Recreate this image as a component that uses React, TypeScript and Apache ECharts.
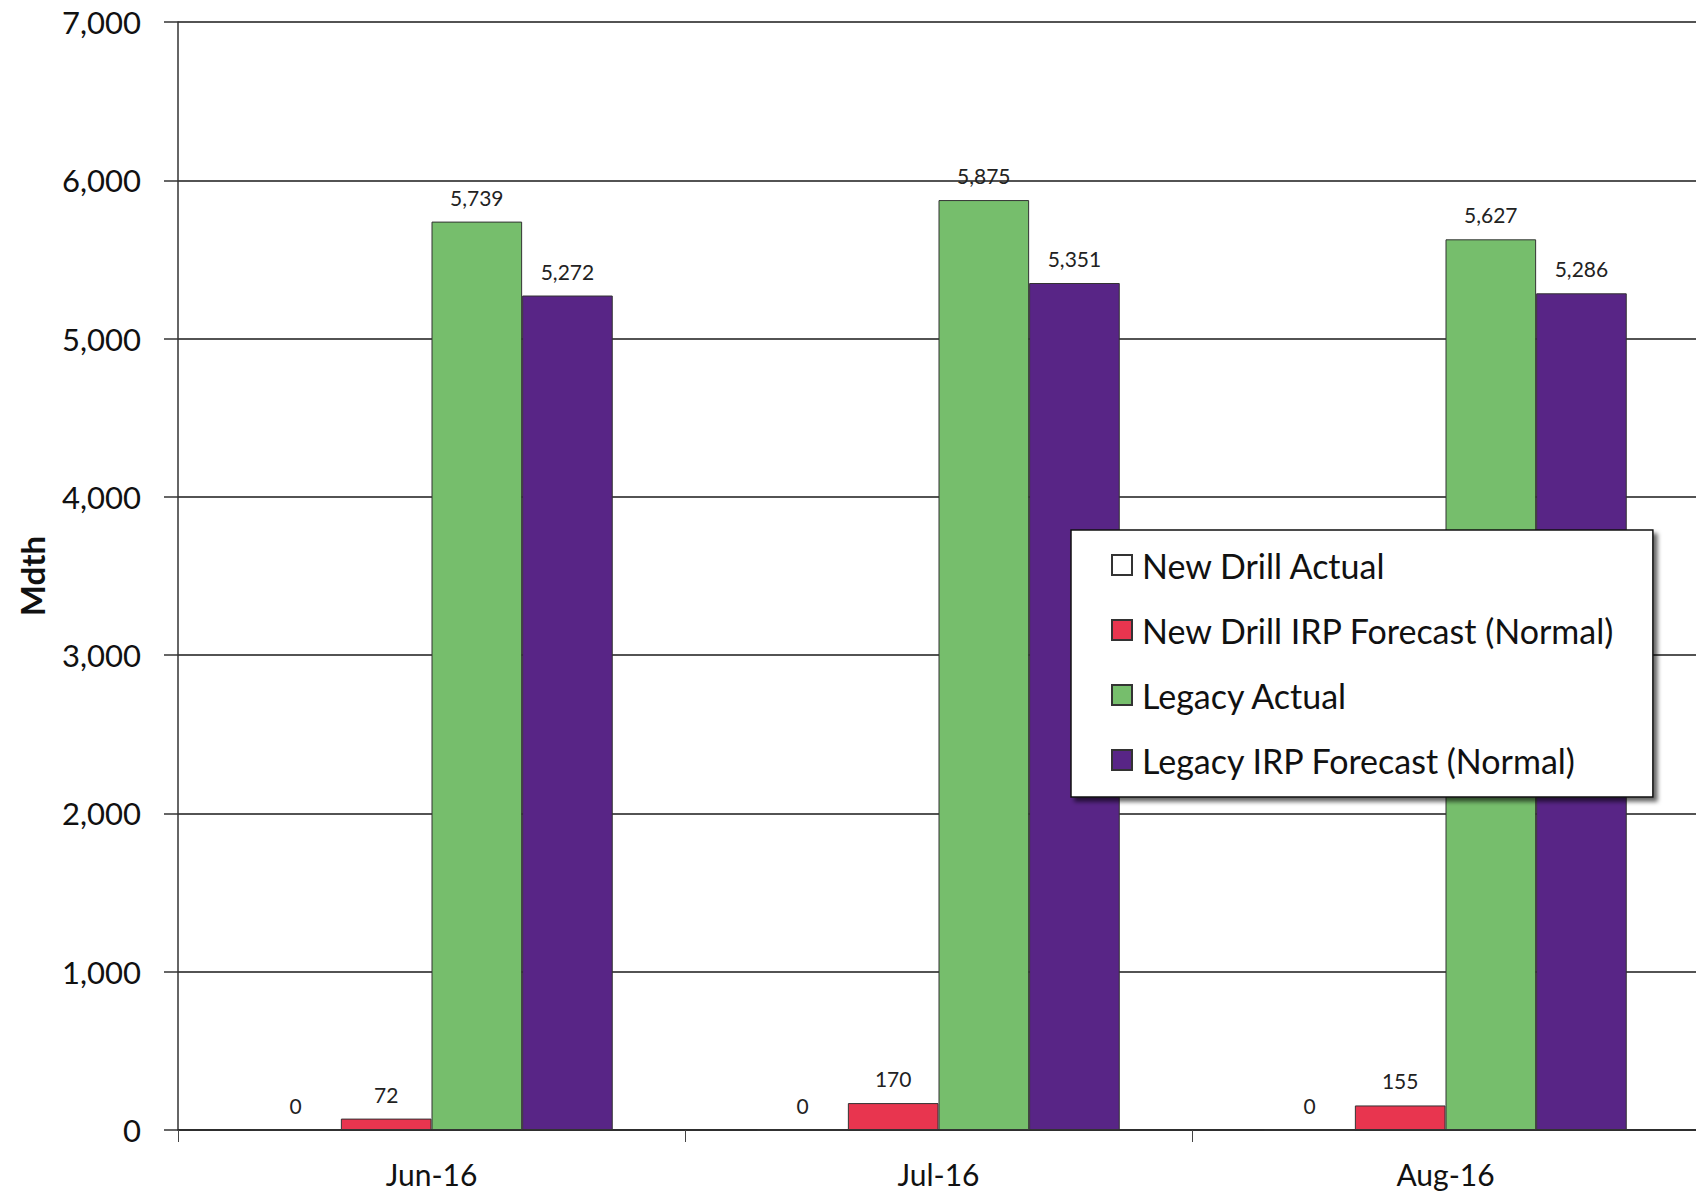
import React, { useEffect, useRef } from "react";
import * as echarts from "echarts";

const categories = ["Jun-16", "Jul-16", "Aug-16"];
const newDrillActual = [0, 0, 0];
const newDrillIRP = [72, 170, 155];
const legacyActual = [5739, 5875, 5627];
const legacyIRP = [5272, 5351, 5286];
const seriesNames = [
  "New Drill Actual",
  "New Drill IRP Forecast (Normal)",
  "Legacy Actual",
  "Legacy IRP Forecast (Normal)",
];
const seriesColors = ["#ffffff", "#e8354f", "#76be6c", "#582586"];

const FONT = "Lato, 'Liberation Sans', sans-serif";

export default function App() {
  const ref = useRef<HTMLDivElement>(null);
  useEffect(() => {
    const chart = echarts.init(ref.current!, null, { renderer: "svg" });
    const datasets = [newDrillActual, newDrillIRP, legacyActual, legacyIRP];
    const fmt = (v: number) => v.toLocaleString("en-US");
    chart.setOption({
      animation: false,
      backgroundColor: "#ffffff",
      textStyle: { fontFamily: FONT },
      grid: { left: 178, right: -3, top: 22, bottom: 70, outerBoundsMode: "none", containLabel: false },
      legend: {
        orient: "vertical",
        left: 1071,
        top: 530,
        data: seriesNames,
        icon: "rect",
        itemWidth: 20,
        itemHeight: 20,
        itemGap: 31,
        padding: [18, 38, 20, 40],
        backgroundColor: "#ffffff",
        borderColor: "#111",
        borderWidth: 1.5,
        shadowColor: "rgba(0,0,0,0.6)",
        shadowBlur: 4,
        shadowOffsetX: 4,
        shadowOffsetY: 4,
        textStyle: { fontSize: 34, color: "#111", fontFamily: FONT, padding: [0, 0, 0, 5] },
      },
      xAxis: {
        type: "category",
        data: categories,
        axisLine: { show: true, lineStyle: { color: "#222", width: 1.5 } },
        axisTick: { show: true, length: 12, lineStyle: { color: "#444" } },
        axisLabel: { fontSize: 30, color: "#111", margin: 29, fontFamily: FONT },
        splitLine: { show: false },
      },
      yAxis: {
        type: "value",
        min: 0,
        max: 7000,
        interval: 1000,
        name: "Mdth",
        nameLocation: "middle",
        nameGap: 130,
        nameTextStyle: { fontSize: 33, fontWeight: "bold", color: "#111", fontFamily: FONT },
        axisLine: { show: true, lineStyle: { color: "#333", width: 1.5 } },
        axisTick: { show: true, length: 14, lineStyle: { color: "#333", width: 1.5 } },
        axisLabel: {
          fontSize: 31,
          color: "#111",
          margin: 37,
          fontFamily: FONT,
          formatter: (v: number) => fmt(v),
        },
        splitLine: { show: true, lineStyle: { color: "#1a1a1a", width: 1.6 } },
      },
      series: seriesNames.map((name, i) => ({
        name,
        type: "bar",
        data: datasets[i],
        barGap: "0%",
        barCategoryGap: "28.5%",
        itemStyle: {
          color: seriesColors[i],
          borderColor: "#333",
          borderWidth: 1,
        },
        label: {
          show: true,
          position: "top",
          distance: 14,
          fontSize: 21,
          color: "#222",
          fontFamily: FONT,
          formatter: (p: any) => fmt(p.value),
        },
      })),
    });
    return () => chart.dispose();
  }, []);
  return (
    <div
      ref={ref}
      style={{ position: "absolute", left: 0, top: 0, width: 1696, height: 1200 }}
    />
  );
}
